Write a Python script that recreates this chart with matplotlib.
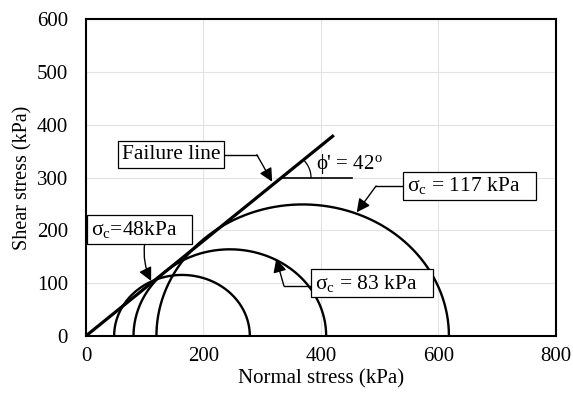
import numpy as np
import matplotlib.pyplot as plt

plt.rcParams['font.family'] = ['Liberation Serif', 'DejaVu Serif']
plt.rcParams['mathtext.fontset'] = 'custom'
plt.rcParams['mathtext.rm'] = 'Liberation Serif'
plt.rcParams['mathtext.it'] = 'Liberation Serif:italic'

# Mohr circles: minor / major principal stresses (kPa)
sigma3 = [48, 81, 120]
sigma1 = [279, 409, 618]
confining = ['48', '83', '117']
# failure envelope
phi = 42
env_x = [0, 420]

xticks = [0, 200, 400, 600, 800]
yticks = [0, 100, 200, 300, 400, 500, 600]

fig = plt.figure(figsize=(5.73, 3.98), dpi=100)
ax = fig.add_axes([0.150, 0.156, 0.820, 0.796])

for s3, s1 in zip(sigma3, sigma1):
    c = (s1 + s3) / 2
    r = (s1 - s3) / 2
    t = np.linspace(0, np.pi, 300)
    ax.plot(c + r * np.cos(t), r * np.sin(t), color='black', lw=1.7, zorder=3)

env_x = np.array(env_x)
ax.plot(env_x, env_x * np.tan(np.radians(phi)), color='black', lw=2.3, zorder=4)

# angle marker
x0 = 300 / np.tan(np.radians(phi))
ax.plot([x0, 453], [300, 300], color='black', lw=1.2, zorder=4)
t = np.linspace(0, np.radians(phi), 50)
ax.plot(x0 + 50 * np.cos(t), 300 + 50 * np.sin(t), color='black', lw=0.9, zorder=4)
ax.text(392, 326, "ϕ' = %d$^{\\rm o}$" % phi, fontsize=15, va='center', ha='left')

fs = 15.5
box = dict(boxstyle='square,pad=0.18', fc='white', ec='black', lw=0.9)
arrow = dict(arrowstyle='-|>', color='black', lw=1.0, mutation_scale=20, shrinkA=0, shrinkB=0)

# Failure line label
ax.text(229, 343, 'Failure line', fontsize=fs, va='center', ha='right', bbox=box, zorder=5)
ax.plot([236, 291], [343, 343], color='black', lw=1.0)
ax.annotate('', xy=(317, 292), xytext=(291, 343), arrowprops=arrow)

# 117 kPa
ax.text(547, 284, 'σ$_{\\rm c}$ = %s kPa   ' % confining[2], fontsize=fs, va='center', ha='left', bbox=box, zorder=5)
ax.plot([540, 494], [284, 284], color='black', lw=1.0)
ax.annotate('', xy=(461, 234), xytext=(494, 284), arrowprops=arrow)

# 48 kPa
ax.text(8, 201, 'σ$_{\\rm c}$=%skPa   ' % confining[0], fontsize=fs, va='center', ha='left', bbox=box, zorder=5)
ax.annotate('', xy=(111, 104), xytext=(100, 176),
            arrowprops=dict(arrow, connectionstyle='arc3,rad=0.15'))

# 83 kPa
ax.text(390, 100, 'σ$_{\\rm c}$ = %s kPa   ' % confining[1], fontsize=fs, va='center', ha='left', bbox=box, zorder=5)
ax.plot([383, 337], [95, 95], color='black', lw=1.0)
ax.annotate('', xy=(324, 146), xytext=(337, 95), arrowprops=arrow)

ax.set_xlim(0, 800)
ax.set_ylim(0, 600)
ax.set_xticks(xticks)
ax.set_yticks(yticks)
ax.tick_params(length=0, labelsize=15)
ax.tick_params(axis='y', pad=13)
ax.tick_params(axis='x', pad=8)
ax.grid(True, color='#e3e3e3', lw=0.8)
ax.set_axisbelow(True)
for sp in ax.spines.values():
    sp.set_linewidth(1.5)
ax.set_xlabel('Normal stress (kPa)', fontsize=15, labelpad=2)
ax.set_ylabel('Shear stress (kPa)', fontsize=14.5, labelpad=3)

plt.savefig('out.png', dpi=100)
